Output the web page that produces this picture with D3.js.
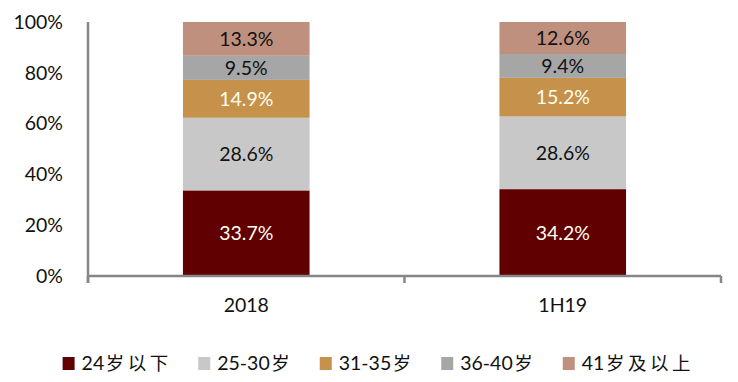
<!DOCTYPE html>
<html><head><meta charset="utf-8">
<script src="https://cdn.jsdelivr.net/npm/d3@7"></script>
<style>
body{margin:0;background:#fff;}
svg text{font-family:Lato,"Noto Sans CJK SC",sans-serif;}
</style></head>
<body><svg id="c" width="738" height="382"></svg>
<script>
const categories = ["2018", "1H19"];
const seriesNames = ["24岁以下", "25-30岁", "31-35岁", "36-40岁", "41岁及以上"];
const values24 = [33.7, 34.2];
const values25_30 = [28.6, 28.6];
const values31_35 = [14.9, 15.2];
const values36_40 = [9.5, 9.4];
const values41 = [13.3, 12.6];
const yTicks = [0, 20, 40, 60, 80, 100];
const colors = ["#600000", "#c8c8c8", "#c5914b", "#a6a6a6", "#c0907f"];
const labelColors = ["#fffff0", "#111", "#fffff0", "#111", "#111"];

const FS = 19.5;
const seriesValues = [values24, values25_30, values31_35, values36_40, values41];
const rows = categories.map((c, i) => {
  const r = {cat: c};
  seriesNames.forEach((s, j) => r[s] = seriesValues[j][i]);
  return r;
});
const stack = d3.stack().keys(seriesNames)(rows);

const svg = d3.select("#c");
const x = d3.scaleBand().domain(categories).range([88, 721]).paddingInner(0.6).paddingOuter(0.3);
const y = d3.scaleLinear().domain([0, 100]).range([276, 22]);

// bars
stack.forEach((layer, j) => {
  const g = svg.append("g");
  g.selectAll("rect").data(layer).join("rect")
    .attr("x", d => x(d.data.cat))
    .attr("width", x.bandwidth())
    .attr("y", d => y(d[1]))
    .attr("height", d => y(d[0]) - y(d[1]))
    .attr("fill", colors[j]);
  g.selectAll("text").data(layer).join("text")
    .attr("x", d => x(d.data.cat) + x.bandwidth() / 2)
    .attr("y", d => (y(d[0]) + y(d[1])) / 2)
    .attr("dy", "0.36em")
    .attr("text-anchor", "middle")
    .attr("font-size", FS)
    .attr("fill", labelColors[j])
    .text(d => (d[1] - d[0]).toFixed(1) + "%");
});

// y axis
const yAxis = svg.append("g").attr("transform", "translate(88,0)")
  .call(d3.axisLeft(y).tickValues(yTicks).tickSize(0).tickPadding(25).tickFormat(d => d + "%"));
yAxis.select(".domain").remove();
yAxis.selectAll("text").attr("font-size", FS).attr("fill", "#111").attr("font-family", "Lato");
svg.append("line").attr("x1", 88).attr("x2", 88).attr("y1", y(100)).attr("y2", 283)
  .attr("stroke", "#868686").attr("stroke-width", 2.5);

// x axis
const [x0, x1] = x.range();
svg.append("line").attr("x1", x0).attr("x2", x1).attr("y1", y(0)).attr("y2", y(0))
  .attr("stroke", "#868686").attr("stroke-width", 2.5);
d3.range(categories.length + 1).forEach(i => {
  const xx = x0 + i * x.step();
  svg.append("line").attr("x1", xx).attr("x2", xx).attr("y1", y(0)).attr("y2", 283)
    .attr("stroke", "#868686").attr("stroke-width", 2.5);
});
svg.append("g").selectAll("text").data(categories).join("text")
  .attr("x", d => x(d) + x.bandwidth() / 2)
  .attr("y", 312)
  .attr("text-anchor", "middle")
  .attr("font-size", FS)
  .attr("fill", "#111")
  .text(d => d);

// legend
const leg = svg.append("g");
let cx = 0;
seriesNames.forEach((s, j) => {
  const it = leg.append("g").attr("transform", `translate(${cx},0)`);
  it.append("rect").attr("x", 0).attr("y", 357).attr("width", 12).attr("height", 13).attr("fill", colors[j]);
  const t = it.append("text").attr("x", 19).attr("y", 370).attr("font-size", FS).attr("fill", "#111");
  const runs = s.match(/[\u4e00-\u9fff]+|[^\u4e00-\u9fff]+/g);
  runs.forEach(r => {
    const cjk = /[\u4e00-\u9fff]/.test(r);
    t.append("tspan").attr("font-size", cjk ? 18.5 : FS)
      .attr("letter-spacing", cjk ? 3.5 : 0)
      .attr("dx", cjk ? 1.5 : 0)
      .text(r);
  });
  cx += 19 + t.node().getComputedTextLength() + 28;
});
const total = cx - 28;
leg.attr("transform", `translate(${(57 + 698) / 2 - total / 2},0)`);
</script></body></html>
